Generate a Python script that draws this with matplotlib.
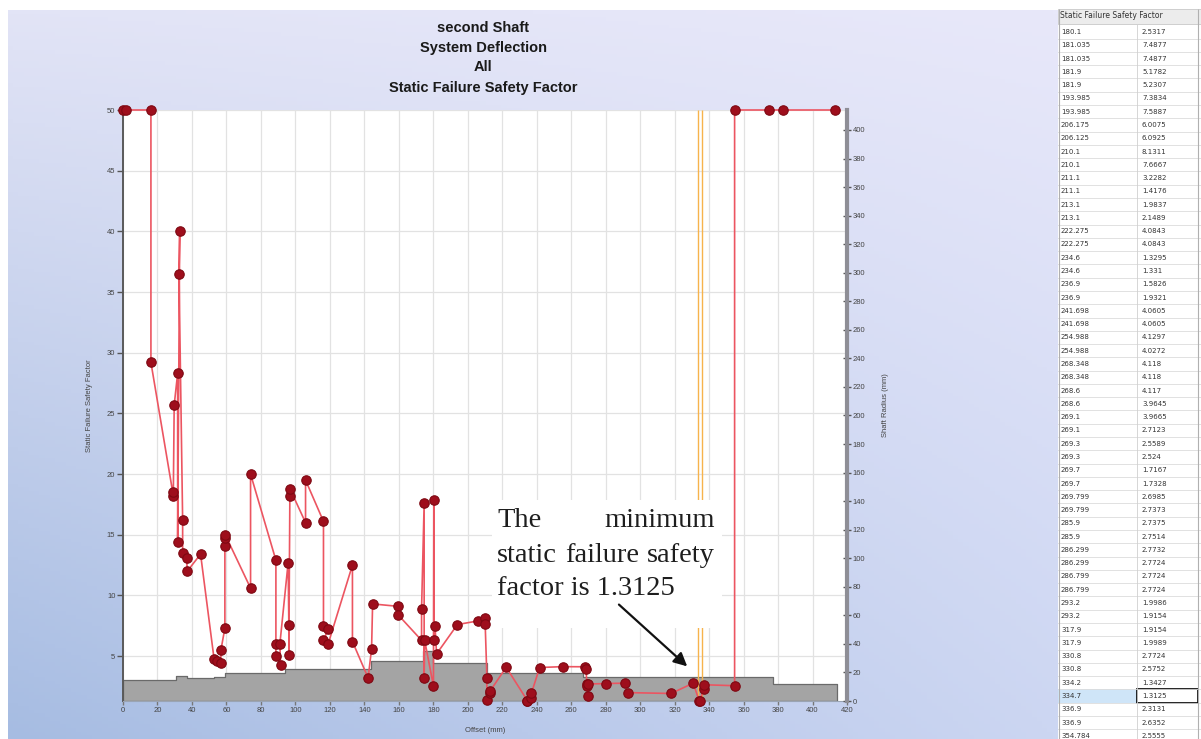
import numpy as np
import matplotlib.pyplot as plt
from matplotlib.patches import Rectangle

W, H = 1201, 739

# static failure safety factor along the shaft (left axis)
sf_x = [0, 2, 16.2, 16.2, 29.2, 29.2, 29.7, 31.7, 31.7, 32.9, 32.5, 34.6, 34.6, 36.9, 37.3,
        45, 52.8, 54.3, 56.8, 56.8, 59.1, 59.1, 59.1, 59.3, 74, 74,
        88.7, 88.7, 88.7, 91.4, 91, 95.8, 96.2, 96.2, 96.8, 96.8, 105.9, 105.9,
        116.3, 116.3, 119, 116.3, 119, 133.1, 133.1, 142.2, 144.2, 144.8, 159.6, 159.6,
        173.2, 173.2, 174.7, 174.7, 175, 180.1, 180.3, 180.5, 181.0, 181.9, 194, 206,
        210.1, 210.1, 211.1, 211.1, 213.1, 213.1, 222.3, 234.6, 234.6, 236.9, 236.9, 241.7,
        255, 268.3, 268.6, 269.1, 269.3, 269.7, 269.8, 280.4, 291, 293.2, 317.9,
        330.8, 334.2, 334.7, 336.9, 336.9, 354.8, 354.8, 374.5, 382.6, 412.8]
sf_y = [50, 50, 50, 29.2, 18.2, 18.5, 25.7, 28.3, 14.4, 40.0, 36.5, 16.2, 13.5, 13.1, 12.0,
        13.4, 4.8, 4.6, 4.4, 5.5, 7.3, 14.1, 14.7, 15.0, 10.6, 20.0,
        12.9, 6.0, 5.0, 4.3, 6.0, 12.7, 7.6, 5.1, 18.2, 18.8, 16.0, 19.5,
        16.1, 7.5, 7.2, 6.3, 6.0, 12.5, 6.2, 3.2, 5.6, 9.3, 9.1, 8.4,
        6.3, 8.9, 17.6, 3.2, 6.3, 2.53, 17.9, 6.3, 7.49, 5.18, 7.6, 7.9,
        8.13, 7.67, 3.23, 1.42, 1.98, 2.15, 4.08, 1.33, 1.33, 1.58, 1.93, 4.06,
        4.13, 4.12, 3.96, 2.71, 2.56, 1.72, 2.70, 2.74, 2.77, 1.99, 1.92,
        2.77, 1.34, 1.3125, 2.31, 2.64, 2.56, 50, 50, 50, 50]

# shaft radius profile (right axis, mm)
prof_x = [0, 31, 37, 53, 59, 94, 144, 174, 180, 211, 267, 377, 414]
prof_r = [14.5, 17.3, 16.0, 16.5, 19.6, 22.7, 28.0, 35.0, 26.7, 19.5, 17.0, 11.7, 11.7]

# marker lines
orange_x = [333.3, 335.9]

# result table on the right
tab_offset = ['180.1', '181.035', '181.035', '181.9', '181.9', '193.985', '193.985',
              '206.175', '206.125', '210.1', '210.1', '211.1', '211.1', '213.1', '213.1',
              '222.275', '222.275', '234.6', '234.6', '236.9', '236.9', '241.698', '241.698',
              '254.988', '254.988', '268.348', '268.348', '268.6', '268.6', '269.1', '269.1',
              '269.3', '269.3', '269.7', '269.7', '269.799', '269.799', '285.9', '285.9',
              '286.299', '286.299', '286.799', '286.799', '293.2', '293.2', '317.9', '317.9',
              '330.8', '330.8', '334.2', '334.7', '336.9', '336.9', '354.784']
tab_sf = ['2.5317', '7.4877', '7.4877', '5.1782', '5.2307', '7.3834', '7.5887',
          '6.0075', '6.0925', '8.1311', '7.6667', '3.2282', '1.4176', '1.9837', '2.1489',
          '4.0843', '4.0843', '1.3295', '1.331', '1.5826', '1.9321', '4.0605', '4.0605',
          '4.1297', '4.0272', '4.118', '4.118', '4.117', '3.9645', '3.9665', '2.7123',
          '2.5589', '2.524', '1.7167', '1.7328', '2.6985', '2.7373', '2.7375', '2.7514',
          '2.7732', '2.7724', '2.7724', '2.7724', '1.9986', '1.9154', '1.9154', '1.9989',
          '2.7724', '2.5752', '1.3427', '1.3125', '2.3131', '2.6352', '2.5555']
selected = 50

plt.rcParams['font.family'] = ['Liberation Sans', 'DejaVu Sans']

fig = plt.figure(figsize=(W / 100, H / 100), dpi=100)
fig.patch.set_facecolor('white')

# gradient background of the chart window
bg = fig.add_axes([8 / W, 0, 1050 / W, 1 - 10 / H], zorder=-10)
gy, gx = np.mgrid[0:1:200j, 0:1:200j]
tl = np.array([226, 228, 246]); tr = np.array([232, 232, 250])
bl = np.array([166, 188, 226]); br = np.array([204, 214, 242])
img = (tl * ((1 - gx) * (1 - gy))[..., None] + tr * (gx * (1 - gy))[..., None]
       + bl * ((1 - gx) * gy)[..., None] + br * (gx * gy)[..., None]) / 255
bg.imshow(img, aspect='auto', extent=[0, 1, 0, 1])
bg.axis('off')

ax = fig.add_axes([123 / W, 1 - 701 / H, 724 / W, 591 / H])
ax.set_facecolor('white')
ax2 = ax.twinx()

ax.set_xlim(0, 420)
ax.set_ylim(1.3, 50)
ax2.set_ylim(0, 414)
ax.set_xticks(np.arange(0, 421, 20))
ax.set_yticks(np.arange(5, 51, 5))
ax2.set_yticks(np.arange(0, 401, 20))
ax.grid(color='#e2e2e2', lw=0.9)
ax.set_axisbelow(True)

# shaft outline drawn with the right-axis scale
ax.fill_between(prof_x, 0, prof_r, step='post', transform=ax2.transData,
                facecolor='#a4a4a4', edgecolor='#6a6a6a', lw=0.9, zorder=1)

ax.vlines(orange_x, 1.3, 50, color='#f7b34c', lw=1.0, zorder=2)

ax.plot(sf_x, sf_y, color='#ec5561', lw=1.2, zorder=3, marker='o', ms=6.8,
        mfc='#9e0e1c', mec='#7e0812', mew=0.8, clip_on=False)

# annotation
box = Rectangle((492 / W, 1 - 628 / H), 230 / W, 128 / H, transform=fig.transFigure,
                facecolor='white', edgecolor='none', zorder=4, clip_on=False)
ax.add_patch(box)
ax.annotate('', xy=(328.5, 4.0), xytext=(286.5, 9.4),
            arrowprops=dict(arrowstyle='-|>', color='#111111', lw=1.6, mutation_scale=20),
            zorder=5)
serif = dict(family='Liberation Serif', fontsize=20.5, color='#1e1e1e', va='baseline',
             transform=fig.transFigure, zorder=6)
ax.text(497 / W, 1 - 527 / H, 'The', ha='left', **serif)
ax.text(715 / W, 1 - 527 / H, 'minimum', ha='right', **serif)
ax.text(497 / W, 1 - 562 / H, 'static', ha='left', **serif)
ax.text(602 / W, 1 - 562 / H, 'failure', ha='center', **serif)
ax.text(715 / W, 1 - 562 / H, 'safety', ha='right', **serif)
ax.text(497 / W, 1 - 595 / H, 'factor is 1.3125', ha='left', **serif)

# axes styling
for s in ['top', 'right']:
    ax.spines[s].set_visible(False)
for s in ['top', 'left', 'bottom']:
    ax2.spines[s].set_visible(False)
ax.spines['left'].set_color('#5a5a5a')
ax.spines['left'].set_linewidth(1.4)
ax.spines['bottom'].set_color('#9aa4b4')
ax2.spines['right'].set_color('#8e8e96')
ax2.spines['right'].set_linewidth(3)

ax.tick_params(axis='y', length=4, width=1, color='#555555', labelsize=5.5,
               labelcolor='#444444', pad=1.5)
ax.tick_params(axis='x', direction='inout', length=6, width=1, color='#777777',
               labelsize=5.5, labelcolor='#444444', pad=1)
ax2.tick_params(axis='y', direction='inout', length=6, width=1, color='#555555',
                labelsize=5.5, labelcolor='#444444', pad=1)

ax.set_ylabel('Static Failure Safety Factor', fontsize=5.5, color='#444444')
ax.yaxis.set_label_coords((93 - 123) / 724, 0.5)
ax2.set_ylabel('Shaft Radius (mm)', fontsize=5.5, color='#444444', rotation=90)
ax2.yaxis.set_label_coords((882 - 123) / 724, 0.5)
ax.set_xlabel('Offset (mm)', fontsize=5.5, color='#444444')
ax.xaxis.set_label_coords(0.5, -(727 - 701) / 591)

# title
for txt, py in zip(['second Shaft', 'System Deflection', 'All',
                    'Static Failure Safety Factor'], [28, 48, 67, 88]):
    fig.text(483 / W, 1 - py / H, txt, ha='center', va='center', fontsize=10.5,
             fontweight='bold', color='#1a1a1a')

# table panel
tab = fig.add_axes([1058 / W, 0, (W - 1058) / W, 1])
tw = W - 1058
tab.set_xlim(0, tw)
tab.set_ylim(H, 0)
tab.axis('off')
tab.add_patch(Rectangle((0, 0), tw, H, facecolor='white', edgecolor='none'))
tab.add_patch(Rectangle((0, 8.5), tw, 15, facecolor='#ececec', edgecolor='#c8c8c8', lw=0.6))
tab.text(2, 16, 'Static Failure Safety Factor', fontsize=5.5, va='center',
         color='#333333', family='DejaVu Sans')
row_h = 13.28
col2 = 1137 - 1058
for i, (o, v) in enumerate(zip(tab_offset, tab_sf)):
    yc = 32 + i * row_h
    if i == selected:
        tab.add_patch(Rectangle((0, yc - row_h / 2), col2, row_h, facecolor='#cfe5f8',
                                edgecolor='none'))
        tab.add_patch(Rectangle((col2, yc - row_h / 2), tw - col2 - 3, row_h,
                                facecolor='white', edgecolor='black', lw=1.2))
    tab.axhline(yc + row_h / 2, color='#dcdcdc', lw=0.6)
    tab.text(3, yc, o, fontsize=5, va='center', color='#333333', family='DejaVu Sans')
    tab.text(col2 + 5, yc, v, fontsize=5, va='center', color='#333333', family='DejaVu Sans')
tab.vlines([col2], 23.5, H, color='#d0d0d0', lw=0.6)
tab.vlines([tw - 3, 0.5], 8.5, H, color='#b0b0b0', lw=0.8)

fig.savefig('out.png', dpi=100)
